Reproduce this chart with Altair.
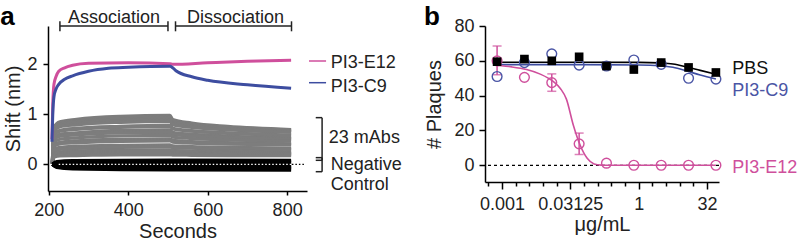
import altair as alt
import pandas as pd

# ================= Panel a : BLI sensorgrams =================
gray_times = [209, 213, 228, 270, 380, 505, 512, 560, 650, 810]
gray_curves = [
    [0.03, 0.74, 0.85, 0.90, 0.96, 0.98, 0.895, 0.824, 0.758, 0.696],
    [0.03, 0.72, 0.83, 0.87, 0.93, 0.95, 0.870, 0.803, 0.742, 0.683],
    [0.03, 0.70, 0.80, 0.85, 0.90, 0.92, 0.845, 0.782, 0.724, 0.669],
    [0.03, 0.68, 0.77, 0.82, 0.87, 0.89, 0.820, 0.761, 0.707, 0.655],
    [0.03, 0.65, 0.75, 0.79, 0.84, 0.86, 0.794, 0.739, 0.689, 0.641],
    [0.02, 0.59, 0.68, 0.72, 0.76, 0.78, 0.722, 0.674, 0.630, 0.587],
    [0.02, 0.58, 0.66, 0.70, 0.74, 0.76, 0.706, 0.661, 0.619, 0.579],
    [0.02, 0.52, 0.60, 0.63, 0.68, 0.69, 0.642, 0.603, 0.566, 0.531],
    [0.02, 0.50, 0.57, 0.61, 0.65, 0.66, 0.616, 0.580, 0.546, 0.514],
    [0.02, 0.49, 0.56, 0.59, 0.63, 0.64, 0.599, 0.565, 0.534, 0.504],
    [0.02, 0.44, 0.50, 0.53, 0.57, 0.58, 0.545, 0.515, 0.488, 0.462],
    [0.02, 0.39, 0.44, 0.47, 0.50, 0.51, 0.480, 0.455, 0.432, 0.411],
    [0.01, 0.37, 0.43, 0.45, 0.48, 0.49, 0.463, 0.440, 0.419, 0.399],
    [0.01, 0.36, 0.41, 0.43, 0.46, 0.47, 0.445, 0.424, 0.405, 0.386],
    [0.01, 0.30, 0.34, 0.36, 0.38, 0.39, 0.370, 0.354, 0.339, 0.324],
    [0.01, 0.28, 0.32, 0.34, 0.36, 0.37, 0.352, 0.337, 0.324, 0.311],
    [0.01, 0.27, 0.30, 0.32, 0.34, 0.35, 0.334, 0.321, 0.308, 0.297],
    [0.01, 0.22, 0.25, 0.27, 0.28, 0.29, 0.278, 0.267, 0.258, 0.249],
    [0.01, 0.21, 0.23, 0.25, 0.26, 0.27, 0.259, 0.250, 0.242, 0.234],
    [0.01, 0.19, 0.22, 0.23, 0.25, 0.25, 0.241, 0.233, 0.225, 0.219],
    [0.01, 0.17, 0.20, 0.21, 0.23, 0.23, 0.222, 0.215, 0.209, 0.203],
    [0.01, 0.16, 0.18, 0.19, 0.21, 0.21, 0.203, 0.197, 0.192, 0.187],
    [0.01, 0.14, 0.17, 0.175, 0.19, 0.19, 0.184, 0.180, 0.175, 0.171],
]
neg_times = [209, 220, 260, 505, 512, 810]
neg_curves = [
    [0.00, 0.05, 0.07, 0.08, 0.08, 0.075],
    [0.00, 0.03, 0.045, 0.05, 0.05, 0.05],
    [0.00, 0.01, 0.02, 0.025, 0.025, 0.03],
    [0.00, -0.01, -0.01, -0.01, -0.01, -0.01],
    [0.00, -0.02, -0.03, -0.04, -0.04, -0.04],
    [0.00, -0.04, -0.06, -0.065, -0.065, -0.065],
    [0.00, -0.05, -0.08, -0.09, -0.09, -0.09],
    [0.00, -0.06, -0.09, -0.11, -0.11, -0.115],
]
e12_times = [208, 210, 213, 218, 225, 240, 260, 300, 400, 505, 512, 600, 700, 810]
e12_shift = [0.5, 1.2, 1.6, 1.75, 1.86, 1.93, 1.98, 2.02, 2.03, 2.01, 2.0, 2.03, 2.06, 2.08]
c9_times = [208, 210, 213, 218, 225, 240, 260, 300, 350, 400, 505, 512, 520, 560, 600, 700, 810]
c9_shift = [0.45, 1.0, 1.35, 1.5, 1.6, 1.7, 1.77, 1.86, 1.92, 1.94, 1.96, 1.93, 1.87, 1.75, 1.68, 1.59, 1.52]

# ================= Panel b : plaque reduction =================
conc = [0.000763, 0.00305, 0.0122, 0.0488, 0.195, 0.781, 3.125, 12.5, 50]
pbs_plaques = [59.5, 61, 60, 62.3, 57, 55, 59, 56.2, 53.3]
c9_plaques = [51, 59, 64, 57.5, 57, 60.5, 58, 50, 49.5]
e12_plaques = [60, 50.5, 47.5, 12.3, 1.2, 0, 0, 0, 0]
e12_low = [52, 50.5, 42.5, 6.2, 1.2, 0, 0, 0, 0]
e12_high = [68.5, 50.5, 52.5, 18.5, 1.2, 0, 0, 0, 0]

fit_flat_conc = [0.000763, 0.0625, 1, 2.83, 5.66, 11.3, 22.6, 50]
pbs_fit = [59.2, 59.2, 59.1, 58.8, 58.2, 56.5, 54.5, 52.3]
c9_fit = [57.8, 57.8, 57.6, 57.2, 56.3, 54.2, 51.8, 49.6]
e12_fit_conc = [0.000763, 0.0016, 0.0034, 0.0066, 0.0133, 0.019, 0.0256, 0.0364,
                0.0515, 0.0733, 0.104, 0.149, 0.233, 50]
e12_fit = [57.3, 56.5, 55, 52.5, 48, 44, 38, 23, 11.5, 4, 0.8, 0.1, 0, 0]

b_tick_log2 = list(range(-11, 6))
b_label_log2 = [-10, -5, 0, 5]
b_label_text = ["0.001", "0.03125", "1", "32"]

PINK = "#cf4f9c"
BLUE = "#3d4da0"
BLUE_TXT = "#4a55a5"
GRAY = "#7d7d7d"
FONT = "Liberation Sans"

# ---------- build panel a ----------
gray_rows = []
for i, row in enumerate(gray_curves):
    for t, v in zip(gray_times, row):
        gray_rows.append({"id": i, "t": t, "v": v})
gray_df = pd.DataFrame(gray_rows)
neg_rows = []
for i, row in enumerate(neg_curves):
    for t, v in zip(neg_times, row):
        neg_rows.append({"id": i, "t": t, "v": v})
neg_df = pd.DataFrame(neg_rows)
e12_df = pd.DataFrame({"t": e12_times, "v": e12_shift})
c9_df = pd.DataFrame({"t": c9_times, "v": c9_shift})

xa = alt.X("t:Q", scale=alt.Scale(domain=[198, 850], nice=False, zero=False),
           axis=alt.Axis(values=[200, 400, 600, 800], title="Seconds", tickSize=4,
                         labelPadding=6, titlePadding=2, labelFlush=False, labelOverlap=False))
ya = alt.Y("v:Q", scale=alt.Scale(domain=[-0.534, 2.766], nice=False, zero=False),
           axis=alt.Axis(values=[0, 1, 2], format="d", title="Shift (nm)", tickSize=5,
                         labelPadding=6, titlePadding=3, labelOverlap=False))

gray_layer = alt.Chart(gray_df).mark_line(color=GRAY, strokeWidth=3.2, interpolate="monotone").encode(
    x=xa, y=ya, detail="id:N")
neg_layer = alt.Chart(neg_df).mark_line(color="black", strokeWidth=3.5, interpolate="monotone").encode(
    x="t:Q", y="v:Q", detail="id:N")
e12_layer = alt.Chart(e12_df).mark_line(color=PINK, strokeWidth=3, interpolate="monotone").encode(
    x="t:Q", y="v:Q")
c9_layer = alt.Chart(c9_df).mark_line(color=BLUE, strokeWidth=3, interpolate="monotone").encode(
    x="t:Q", y="v:Q")

dot_df = pd.DataFrame({"t": [225, 812], "t2": [810, 846], "v": [0, 0], "c": ["white", "black"]})
dot_layer = alt.Chart(dot_df).mark_rule(strokeWidth=1.3, strokeDash=[1.5, 2]).encode(
    x="t:Q", x2="t2:Q", y="v:Q", color=alt.Color("c:N", scale=None))

seg_a = pd.DataFrame([
    # association bracket
    {"t": 228, "t2": 500, "v": 2.766, "v2": 2.766, "c": "#222"},
    {"t": 228, "t2": 228, "v": 2.66, "v2": 2.86, "c": "#222"},
    {"t": 500, "t2": 500, "v": 2.66, "v2": 2.86, "c": "#222"},
    # dissociation bracket
    {"t": 519, "t2": 811, "v": 2.766, "v2": 2.766, "c": "#222"},
    {"t": 519, "t2": 519, "v": 2.66, "v2": 2.86, "c": "#222"},
    {"t": 811, "t2": 811, "v": 2.66, "v2": 2.86, "c": "#222"},
    # 23 mAbs bracket
    {"t": 888, "t2": 888, "v": 0.08, "v2": 0.933, "c": "#222"},
    {"t": 872, "t2": 888, "v": 0.933, "v2": 0.933, "c": "#222"},
    {"t": 872, "t2": 888, "v": 0.08, "v2": 0.08, "c": "#222"},
    # negative control bracket
    {"t": 888, "t2": 888, "v": -0.148, "v2": 0.133, "c": "#222"},
    {"t": 872, "t2": 888, "v": 0.133, "v2": 0.133, "c": "#222"},
    {"t": 872, "t2": 888, "v": -0.148, "v2": -0.148, "c": "#222"},
    # legend swatches
    {"t": 855, "t2": 898, "v": 2.066, "v2": 2.066, "c": PINK},
    {"t": 855, "t2": 898, "v": 1.632, "v2": 1.632, "c": BLUE},
])
seg_a_layer = alt.Chart(seg_a).mark_rule(strokeWidth=1.5).encode(
    x="t:Q", x2="t2:Q", y="v:Q", y2="v2:Q", color=alt.Color("c:N", scale=None))

# invisible top anchor that fixes the figure's top margin
anchor_layer = alt.Chart(pd.DataFrame({"t": [300], "t2": [301], "v": [3.274]})).mark_rule(
    strokeWidth=1, opacity=0).encode(x="t:Q", x2="t2:Q", y="v:Q")

txt_a = pd.DataFrame([
    {"t": 364, "v": 2.832, "s": "Association", "a": "center"},
    {"t": 670, "v": 2.832, "s": "Dissociation", "a": "center"},
    {"t": 910, "v": 1.932, "s": "PI3-E12", "a": "left"},
    {"t": 910, "v": 1.452, "s": "PI3-C9", "a": "left"},
    {"t": 905, "v": 0.432, "s": "23 mAbs", "a": "left"},
    {"t": 910, "v": -0.120, "s": "Negative", "a": "left"},
    {"t": 910, "v": -0.51, "s": "Control", "a": "left"},
])
txt_a_center = alt.Chart(txt_a[txt_a.a == "center"]).mark_text(
    fontSize=18, align="center", baseline="alphabetic", color="#222", font=FONT).encode(
    x="t:Q", y="v:Q", text="s:N")
txt_a_left = alt.Chart(txt_a[txt_a.a == "left"]).mark_text(
    fontSize=18, align="left", baseline="alphabetic", color="#222", font=FONT).encode(
    x="t:Q", y="v:Q", text="s:N")
letter_a = alt.Chart(pd.DataFrame({"t": [78], "v": [2.786], "s": ["a"]})).mark_text(
    fontSize=26, fontWeight="bold", align="left", baseline="alphabetic", color="black", font=FONT).encode(
    x="t:Q", y="v:Q", text="s:N")

panel_a = alt.layer(gray_layer, neg_layer, dot_layer, e12_layer, c9_layer,
                    seg_a_layer, anchor_layer, txt_a_center, txt_a_left, letter_a).properties(width=259, height=165)

# ---------- build panel b ----------
label_expr = ""
for k, s in zip(b_label_log2, b_label_text):
    label_expr += f"round(log(datum.value)/LN2) == {k} ? '{s}' : "
label_expr += "''"

xb = alt.X("c:Q", scale=alt.Scale(type="log", base=2, domain=[2 ** -11.24, 2 ** 5.87], nice=False),
           axis=alt.Axis(values=[2.0 ** k for k in b_tick_log2], labelExpr=label_expr, title="μg/mL",
                         tickSize={"condition": {"test": "round(log(datum.value)/LN2) % 5 == 0", "value": 7},
                                   "value": 4},
                         labelPadding=6, titlePadding=1, labelFlush=False, labelOverlap=False))
yb = alt.Y("p:Q", scale=alt.Scale(domain=[-9.6, 80], nice=False, zero=False),
           axis=alt.Axis(values=[0, 20, 40, 60, 80], format="d", title="# Plaques", tickSize=6,
                         labelPadding=5, titlePadding=9, labelOverlap=False))
yb2 = alt.Y2("p2:Q")

zero_layer = alt.Chart(pd.DataFrame({"p": [0]})).mark_rule(color="black", strokeWidth=1.3, strokeDash=[3, 3]).encode(
    y=yb)

fit_df = pd.concat([
    pd.DataFrame({"c": fit_flat_conc, "p": pbs_fit, "g": "PBS"}),
    pd.DataFrame({"c": fit_flat_conc, "p": c9_fit, "g": "PI3-C9"}),
    pd.DataFrame({"c": e12_fit_conc, "p": e12_fit, "g": "PI3-E12"}),
])
fit_layer = alt.Chart(fit_df).mark_line(strokeWidth=1.6, interpolate="monotone").encode(
    x=xb, y=yb,
    color=alt.Color("g:N", scale=alt.Scale(domain=["PBS", "PI3-C9", "PI3-E12"],
                                           range=["black", BLUE, PINK]), legend=None))

err_df = pd.DataFrame({"c": conc, "p": e12_low, "p2": e12_high})
err_df = err_df[err_df.p2 > err_df.p]
err_hi_df = pd.DataFrame({"c": err_df.c, "p": err_df.p2})
err_rule = alt.Chart(err_df).mark_rule(color=PINK, strokeWidth=1.5).encode(x=xb, y=yb, y2=yb2)
err_lo = alt.Chart(err_df).mark_tick(color=PINK, orient="horizontal", size=9, thickness=1.5).encode(x=xb, y=yb)
err_hi = alt.Chart(err_hi_df).mark_tick(color=PINK, orient="horizontal", size=9, thickness=1.5).encode(x=xb, y=yb)

c9_pts = alt.Chart(pd.DataFrame({"c": conc, "p": c9_plaques})).mark_point(
    shape="circle", filled=False, size=95, strokeWidth=1.4, color=BLUE_TXT, opacity=1).encode(x=xb, y=yb)
e12_pts = alt.Chart(pd.DataFrame({"c": conc, "p": e12_plaques})).mark_point(
    shape="circle", filled=False, size=95, strokeWidth=1.4, color=PINK, opacity=1).encode(x=xb, y=yb)
pbs_pts = alt.Chart(pd.DataFrame({"c": conc, "p": pbs_plaques})).mark_point(
    shape="square", filled=True, size=75, color="black", opacity=1).encode(x=xb, y=yb)

txt_b = pd.DataFrame([
    {"c": 113.8, "p": 52.2, "s": "PBS", "col": "#111111"},
    {"c": 113.8, "p": 39.8, "s": "PI3-C9", "col": BLUE_TXT},
    {"c": 113.8, "p": -4.26, "s": "PI3-E12", "col": PINK},
])
txt_b_layer = alt.Chart(txt_b).mark_text(fontSize=18, align="left", baseline="alphabetic", font=FONT).encode(
    x=xb, y=yb, text="s:N", color=alt.Color("col:N", scale=None))
letter_b = alt.Chart(pd.DataFrame({"c": [2 ** -15.7], "p": [80.57], "s": ["b"]})).mark_text(
    fontSize=26, fontWeight="bold", align="left", baseline="alphabetic", color="black", font=FONT).encode(
    x=xb, y=yb, text="s:N")

panel_b = alt.layer(zero_layer, fit_layer, err_rule, err_lo, err_hi, c9_pts, e12_pts, pbs_pts,
                    txt_b_layer, letter_b).properties(width=234, height=156)

chart = alt.hconcat(panel_a, panel_b, spacing=178, bounds="flush").properties(
    padding={"left": 0, "top": 0, "right": 0, "bottom": 0}
).configure_view(stroke=None).configure_axis(
    labelFont=FONT, titleFont=FONT, labelFontSize=18, titleFontSize=20, titleFontWeight="normal",
    domainColor="black", tickColor="black", labelColor="#222", titleColor="#222",
    domainWidth=1.5, tickWidth=1.5, grid=False
).configure_text(font=FONT)

chart.save("out.html", embed_options={"renderer": "svg", "actions": False})
